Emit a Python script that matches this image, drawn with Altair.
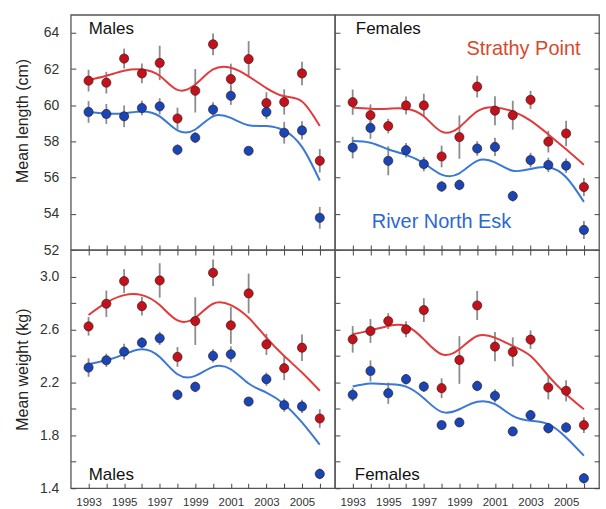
import altair as alt
import pandas as pd

years = list(range(1993, 2007))
sites = ["Strathy Point", "River North Esk"]

# ---- Mean length (cm), males ----
ml_sp = [61.36, 61.25, 62.58, 61.76, 62.34, 59.27, 60.80, 63.37, 61.45, 62.55, 60.12, 60.18, 61.76, 56.93]
ml_sp_err = [0.6, 0.6, 0.55, 0.55, 0.95, 0.6, 1.2, 0.6, 0.85, 1.0, 0.6, 0.7, 0.65, 0.65]
ml_ne = [59.63, 59.52, 59.39, 59.85, 59.94, 57.54, 58.21, 59.76, 60.52, 57.48, 59.63, 58.48, 58.61, 53.78]
ml_ne_err = [0.6, 0.55, 0.6, 0.4, 0.45, 0.3, 0.3, 0.4, 0.5, 0.2, 0.4, 0.6, 0.5, 0.6]
ml_sp_fit = [61.40, 61.63, 61.91, 61.98, 61.63, 60.85, 61.15, 61.98, 62.07, 61.60, 60.95, 60.50, 60.21, 58.85]
ml_ne_fit = [59.63, 59.54, 59.56, 59.66, 59.39, 58.61, 58.66, 59.39, 59.30, 58.90, 58.85, 58.60, 57.70, 55.84]

# ---- Mean length (cm), females ----
fl_sp = [60.17, 59.45, 58.85, 59.99, 59.99, 57.17, 58.24, 61.03, 59.70, 59.45, 60.30, 57.99, 58.44, 55.48]
fl_sp_err = [0.7, 0.6, 0.4, 0.5, 0.65, 0.6, 1.2, 0.6, 0.8, 0.8, 0.5, 0.6, 0.7, 0.5]
fl_ne = [57.66, 58.75, 56.93, 57.52, 56.75, 55.51, 55.60, 57.61, 57.70, 54.98, 56.97, 56.70, 56.66, 53.11]
fl_ne_err = [0.6, 0.6, 0.8, 0.4, 0.4, 0.3, 0.3, 0.4, 0.5, 0.3, 0.4, 0.4, 0.4, 0.5]
fl_sp_fit = [59.88, 59.81, 59.81, 59.81, 59.39, 58.54, 58.79, 59.66, 59.88, 59.66, 59.15, 58.39, 57.57, 56.71]
fl_ne_fit = [58.03, 57.93, 57.57, 57.26, 56.80, 56.17, 56.24, 56.93, 56.84, 56.38, 56.48, 56.57, 56.02, 54.66]

# ---- Mean weight (kg), males ----
mw_sp = [2.623, 2.794, 2.965, 2.776, 2.970, 2.392, 2.663, 3.028, 2.631, 2.872, 2.487, 2.307, 2.462, 1.927]
mw_sp_err = [0.07, 0.10, 0.09, 0.07, 0.13, 0.075, 0.18, 0.10, 0.14, 0.15, 0.08, 0.09, 0.10, 0.07]
mw_ne = [2.312, 2.367, 2.432, 2.500, 2.533, 2.106, 2.166, 2.400, 2.412, 2.055, 2.224, 2.028, 2.018, 1.508]
mw_ne_err = [0.07, 0.05, 0.06, 0.04, 0.05, 0.04, 0.04, 0.05, 0.06, 0.03, 0.05, 0.05, 0.05, 0.04]
mw_sp_fit = [2.709, 2.802, 2.859, 2.859, 2.784, 2.668, 2.688, 2.794, 2.784, 2.688, 2.538, 2.399, 2.274, 2.136]
mw_ne_fit = [2.337, 2.367, 2.412, 2.450, 2.392, 2.261, 2.249, 2.317, 2.299, 2.191, 2.123, 2.035, 1.897, 1.729]

# ---- Mean weight (kg), females ----
fw_sp = [2.525, 2.588, 2.663, 2.601, 2.746, 2.156, 2.369, 2.781, 2.470, 2.430, 2.523, 2.161, 2.136, 1.877]
fw_sp_err = [0.10, 0.09, 0.06, 0.06, 0.09, 0.075, 0.18, 0.11, 0.11, 0.11, 0.07, 0.09, 0.08, 0.06]
fw_ne = [2.106, 2.286, 2.118, 2.224, 2.168, 1.877, 1.897, 2.173, 2.098, 1.829, 1.952, 1.854, 1.859, 1.475]
fw_ne_err = [0.05, 0.08, 0.08, 0.04, 0.04, 0.03, 0.03, 0.04, 0.05, 0.03, 0.04, 0.04, 0.04, 0.04]
fw_sp_fit = [2.563, 2.593, 2.626, 2.626, 2.525, 2.412, 2.450, 2.550, 2.538, 2.475, 2.399, 2.249, 2.111, 1.997]
fw_ne_fit = [2.168, 2.191, 2.186, 2.168, 2.080, 1.977, 1.997, 2.053, 2.035, 1.947, 1.910, 1.884, 1.784, 1.646]

len_ticks = [52, 54, 56, 58, 60, 62, 64]
wt_ticks = [1.4, 1.6, 1.8, 2.0, 2.2, 2.4, 2.6, 2.8, 3.0]

point_colors = ["#c2121c", "#1a45b5"]
line_colors = ["#e23b3b", "#3b78d6"]


def make_df(sp, sp_err, ne, ne_err, sp_fit, ne_fit):
    rows = []
    for i, yr in enumerate(years):
        rows.append(dict(year=yr, site=sites[0], v=sp[i], lo=sp[i] - sp_err[i],
                         hi=sp[i] + sp_err[i], fit=sp_fit[i]))
        rows.append(dict(year=yr, site=sites[1], v=ne[i], lo=ne[i] - ne_err[i],
                         hi=ne[i] + ne_err[i], fit=ne_fit[i]))
    return pd.DataFrame(rows)


tick_style = dict(tickSize=5, offset=-5, domain=False, grid=False,
                  tickColor="#444", tickWidth=1)

x_scale = alt.Scale(domain=[1992, 2006.85], nice=False, zero=False)


def text_layer(txt, x, y, color, size):
    return alt.Chart(pd.DataFrame({"t": [txt]})).mark_text(
        align="left", baseline="alphabetic", fontSize=size, color=color
    ).encode(x=alt.value(x), y=alt.value(y), text="t:N")


def panel(df, ydom, yvals, is_len, left, bottom, height, texts):
    y_scale = alt.Scale(domain=ydom, nice=False, zero=False)
    if is_len:
        yfmt = "d"
        yexpr = "datum.label"
        ytitle = "Mean length (cm)"
    else:
        yfmt = ".1f"
        yexpr = "round(datum.value*10) % 4 == 2 ? datum.label : ''"
        ytitle = "Mean weight (kg)"

    x_bottom_kw = dict(orient="bottom", values=years, format="d", title=None,
                       labels=bottom, **tick_style)
    if bottom:
        x_bottom_kw.update(labelExpr="datum.value % 2 == 1 ? datum.label : ''",
                           labelFontSize=11.5, labelPadding=8, labelColor="#333")
    else:
        x_bottom_kw.update(minExtent=0, maxExtent=0)
    y_left_kw = dict(orient="left", values=yvals, format=yfmt, labels=left,
                     **tick_style)
    if left:
        y_left_kw.update(labelExpr=yexpr, labelFontSize=14, labelPadding=12,
                         labelColor="#333", title=ytitle, titleFontSize=16,
                         titleFontWeight="normal", titleColor="#222",
                         titlePadding=7, minExtent=38, maxExtent=38)
        if is_len:
            y_left_kw.update(titleY=106)
    else:
        y_left_kw.update(title=None, minExtent=0, maxExtent=0)

    base = alt.Chart(df)
    rules = base.mark_rule(color="#8c8c8c", strokeWidth=1.8).encode(
        x=alt.X("year:Q", scale=x_scale, axis=alt.Axis(**x_bottom_kw)),
        y=alt.Y("lo:Q", scale=y_scale, axis=alt.Axis(**y_left_kw)),
        y2="hi:Q",
    )
    lines = base.mark_line(interpolate="natural", strokeWidth=2).encode(
        x=alt.X("year:Q", scale=x_scale, axis=None),
        y=alt.Y("fit:Q", scale=y_scale, axis=None),
        color=alt.Color("site:N", scale=alt.Scale(domain=sites, range=line_colors),
                        legend=None),
    )
    x_top = alt.Axis(orient="top", values=years, labels=False, title=None,
                     minExtent=0, maxExtent=0, **tick_style) if not is_len else None
    y_right = alt.Axis(orient="right", values=yvals, labels=False, title=None,
                       minExtent=0, maxExtent=0, **tick_style) if not left else None
    points = base.mark_circle(size=85, opacity=1, stroke="#2a1010",
                              strokeWidth=0.6).encode(
        x=alt.X("year:Q", scale=x_scale, axis=x_top),
        y=alt.Y("v:Q", scale=y_scale, axis=y_right),
        fill=alt.Fill("site:N", scale=alt.Scale(domain=sites, range=point_colors),
                      legend=None),
    )
    return alt.layer(rules, lines, points, *texts).resolve_axis(
        x="independent", y="independent"
    ).properties(width=265, height=height)


p11 = panel(make_df(ml_sp, ml_sp_err, ml_ne, ml_ne_err, ml_sp_fit, ml_ne_fit),
            [52, 65], len_ticks, True, True, False, 236,
            [text_layer("Males", 18, 19, "#111", 17)])
p12 = panel(make_df(fl_sp, fl_sp_err, fl_ne, fl_ne_err, fl_sp_fit, fl_ne_fit),
            [52, 65], len_ticks, True, False, False, 236,
            [text_layer("Females", 21, 19, "#111", 17),
             text_layer("Strathy Point", 132, 40, "#d64a2c", 20),
             text_layer("River North Esk", 37, 214, "#2c68cf", 20)])
p21 = panel(make_df(mw_sp, mw_sp_err, mw_ne, mw_ne_err, mw_sp_fit, mw_ne_fit),
            [1.4, 3.2], wt_ticks, False, True, True, 239,
            [text_layer("Males", 18, 231, "#111", 17)])
p22 = panel(make_df(fw_sp, fw_sp_err, fw_ne, fw_ne_err, fw_sp_fit, fw_ne_fit),
            [1.4, 3.2], wt_ticks, False, False, True, 239,
            [text_layer("Females", 20, 231, "#111", 17)])

chart = alt.concat(p11, p12, p21, p22, columns=2, spacing=0, bounds="flush").properties(
    padding={"left": 14, "top": 13, "right": 5, "bottom": 2},
    background="white",
).configure(font="Liberation Sans").configure_view(stroke="#555", strokeWidth=1.3)

chart.save("out.html", embed_options={"renderer": "svg", "actions": False})
